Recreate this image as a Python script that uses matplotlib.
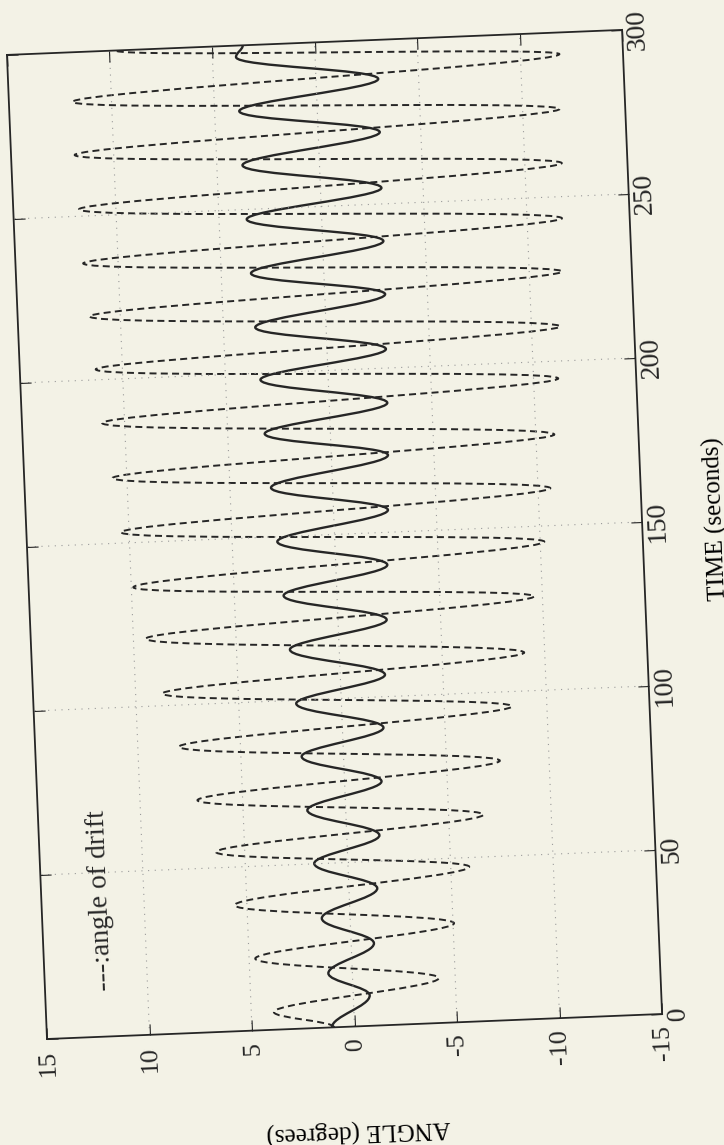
import matplotlib
matplotlib.use("Agg")
import matplotlib.pyplot as plt
from matplotlib.path import Path
from matplotlib.patches import PathPatch
from matplotlib.transforms import Affine2D
from mpl_toolkits.axisartist import floating_axes
from mpl_toolkits.axisartist.grid_finder import FixedLocator, DictFormatter

PAPER = "#f3f2e6"
INK = "#262626"
GRID = "#9a9a9a"

plt.rcParams["font.family"] = ["Liberation Serif", "DejaVu Serif"]

# axis ticks
angle_ticks = [15, 10, 5, 0, -5, -10, -15]
angle_labels = ["15", "10", "5", "0", "-5", "-10", "-15"]
time_ticks = [0, 50, 100, 150, 200, 250, 300]
time_labels = ["0", "50", "100", "150", "200", "250", "300"]

# angle of drift: turning points of the oscillation (s, deg)
drift_time = [0, 5.4, 13.7, 21.9, 30.2, 38.4, 47.2, 54.8, 62.9, 70.8, 79.1,
              87.3, 95.5, 103.7, 111.7, 120.6, 128.7, 136.4, 145.2, 153.3,
              161.4, 169.9, 177.7, 186.8, 194.7, 203.2, 210.5, 219.4, 227.2,
              235.6, 243.4, 252.1, 260.2, 268.7, 276.7, 284.9, 293.4, 300]
drift_angle = [1.0, 3.9, -4.2, 4.7, -5.05, 5.6, -5.9, 6.4, -6.7, 7.2, -7.6,
               8.0, -8.3, 8.7, -9.0, 9.4, -9.6, 9.9, -10.2, 10.4,
               -10.6, 10.7, -10.9, 11.1, -11.2, 11.3, -11.4, 11.5, -11.6,
               11.7, -11.7, 11.8, -11.8, 11.9, -11.8, 11.9, -11.9, 9.7]

# heading angle: turning points of the oscillation (s, deg)
heading_time = [0, 9.3, 16.5, 25.1, 33.3, 41.8, 50.1, 57.9, 66.4, 74.3,
                82.8, 90.6, 99.0, 106.7, 115.5, 123.4, 132.0, 140.1, 148.5,
                156.8, 165.0, 173.5, 181.5, 189.4, 198.0, 205.8, 214.0,
                222.5, 230.5, 238.7, 247.0, 254.9, 263.5, 271.9, 280.0,
                288.1, 296.5, 300]
heading_angle = [1.1, -0.8, 1.17, -1.11, 1.38, -1.38, 1.64, -1.59, 1.87, -1.8,
                 2.04, -2.0, 2.2, -2.18, 2.4, -2.37, 2.6, -2.51, 2.8,
                 -2.65, 3.0, -2.76, 3.2, -2.83, 3.3, -2.87, 3.45,
                 -2.94, 3.55, -2.96, 3.65, -2.97, 3.75, -3.0, 3.8,
                 -3.03, 3.85, 3.5]


def wave_path(times, values, k=0.364):
    """Smooth path through the turning points, in (time, angle) coordinates."""
    verts = [(times[0], values[0])]
    codes = [Path.MOVETO]
    for t0, v0, t1, v1 in zip(times[:-1], values[:-1], times[1:], values[1:]):
        dt = t1 - t0
        verts += [(t0 + k * dt, v0), (t1 - k * dt, v1), (t1, v1)]
        codes += [Path.CURVE4] * 3
    return Path(verts, codes)


W, H = 724, 1145
fig = plt.figure(figsize=(W / 100, H / 100), dpi=100, facecolor=PAPER)

# the sheet is turned a quarter turn (plus a slight skew); time runs upward
tilt = 92.33
sec_px = 3.283     # pixels per second along the time axis
deg_px = 20.52     # pixels per degree along the angle axis
tr = Affine2D().scale(sec_px, deg_px).rotate_deg(tilt)

t_lo, t_hi, a_lo, a_hi = time_ticks[0], time_ticks[-1], angle_ticks[-1], angle_ticks[0]
corners = tr.transform([(t_lo, a_lo), (t_lo, a_hi), (t_hi, a_lo), (t_hi, a_hi)])
xmin, ymin = corners.min(axis=0)
xmax, ymax = corners.max(axis=0)
x0, y0 = tr.transform((t_lo, a_hi))
anchor_px = (47, H - 1039)          # where (t=0, angle=15) sits on the page
cx = anchor_px[0] + (xmin + xmax) / 2 - x0
cy = anchor_px[1] + (ymin + ymax) / 2 - y0
bw, bh = 1.02 * (xmax - xmin), 1.02 * (ymax - ymin)

grid_helper = floating_axes.GridHelperCurveLinear(
    tr, extremes=(t_lo, t_hi, a_lo, a_hi),
    grid_locator1=FixedLocator(time_ticks),
    grid_locator2=FixedLocator(angle_ticks),
    tick_formatter1=DictFormatter(dict(zip(time_ticks, time_labels))),
    tick_formatter2=DictFormatter(dict(zip(angle_ticks, angle_labels))))

ax = fig.add_axes([(cx - bw / 2) / W, (cy - bh / 2) / H, bw / W, bh / H],
                  axes_class=floating_axes.FloatingAxes, grid_helper=grid_helper)
ax.patch.set_facecolor(PAPER)
ax.set_facecolor(PAPER)

aux = ax.get_aux_axes(tr)
aux.patch = ax.patch
ax.patch.zorder = 0.9

aux.add_patch(PathPatch(wave_path(drift_time, drift_angle), fill=False,
                        edgecolor=INK, linewidth=1.4, linestyle=(0, (3.6, 2.2)),
                        capstyle="butt"))
aux.add_patch(PathPatch(wave_path(heading_time, heading_angle), fill=False,
                        edgecolor=INK, linewidth=1.7))

ax.grid(True, color=GRID, linestyle=(0, (1, 5)), linewidth=0.8)

for name in ["left", "right", "bottom", "top"]:
    axis = ax.axis[name]
    axis.line.set_color(INK)
    axis.line.set_linewidth(1.3)
    axis.major_ticks.set_ticksize(8)
    axis.major_ticks.set_color(INK)
    axis.major_ticklabels.set_color(INK)
ax.axis["right"].major_ticklabels.set_visible(False)
ax.axis["top"].major_ticklabels.set_visible(False)

# angle tick labels along the lower edge, time tick labels along the right edge
ax.axis["left"].major_ticklabels.set_fontsize(19)
ax.axis["left"].major_ticklabels.set_pad(8)
ax.axis["bottom"].major_ticklabels.set_fontsize(20)
ax.axis["bottom"].major_ticklabels.set_pad(3)

ax.axis["left"].label.set_text("ANGLE (degrees)")
ax.axis["left"].label.set_fontsize(18)
ax.axis["left"].label.set_pad(33)
ax.axis["bottom"].label.set_text("TIME (seconds)")
ax.axis["bottom"].label.set_fontsize(18)
ax.axis["bottom"].label.set_pad(29)

aux.text(14, 12.1, "---:angle of drift", rotation=tilt, rotation_mode="anchor",
         ha="left", va="center", fontsize=20, color=INK)

fig.savefig("out.png", dpi=100, facecolor=PAPER)
